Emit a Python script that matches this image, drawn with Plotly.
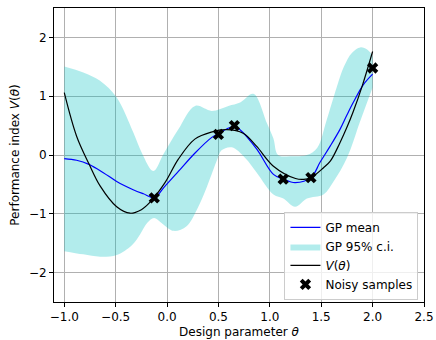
import plotly.graph_objects as go

# ---- data ----
theta_true = [-1.0, -0.88, -0.76, -0.65, -0.49, -0.36, -0.25, -0.17, -0.02, 0.11, 0.27, 0.43,
              0.58, 0.74, 0.87, 1.035, 1.25, 1.33, 1.40, 1.52, 1.59, 1.68, 1.75, 1.81, 1.90, 2.0]
V_true = [1.06, 0.32, -0.15, -0.53, -0.88, -0.99, -0.93, -0.81, -0.47, -0.07, 0.27, 0.39,
          0.43, 0.37, 0.15, -0.19, -0.40, -0.415, -0.385, -0.22, -0.10, 0.20, 0.47, 0.73, 1.18, 1.76]

theta_mean = [-1.0, -0.88, -0.76, -0.62, -0.49, -0.33, -0.23, -0.124, -0.03, 0.11, 0.27, 0.435,
              0.50, 0.60, 0.66, 0.71, 0.873, 1.035, 1.13, 1.246, 1.40, 1.49, 1.587, 1.684,
              1.75, 1.814, 1.912, 2.0]
gp_mean = [-0.06, -0.09, -0.16, -0.30, -0.45, -0.59, -0.66, -0.726, -0.55, -0.28, 0.03, 0.30,
           0.365, 0.46, 0.48, 0.43, 0.10, -0.33, -0.41, -0.47, -0.385, -0.12, 0.15, 0.44,
           0.68, 0.90, 1.20, 1.375]

theta_upper = [-1.0, -0.815, -0.652, -0.49, -0.328, -0.246, -0.133, -0.036, 0.11, 0.273, 0.435,
               0.597, 0.711, 0.84, 0.97, 1.035, 1.08, 1.2, 1.36, 1.46, 1.55, 1.65, 1.72, 1.80,
               1.88, 1.95, 2.0]
ci_upper = [1.506, 1.404, 1.261, 0.978, 0.382, 0.04, -0.273, 0.012, 0.438, 0.835, 0.75,
            0.835, 0.893, 1.04, 0.55, 0.28, 0.0, -0.02, 0.0, 0.12, 0.58, 1.15, 1.50, 1.74,
            1.83, 1.79, 1.69]

theta_lower = [-1.0, -0.815, -0.652, -0.49, -0.34, -0.263, -0.19, -0.127, -0.036, 0.063, 0.19,
               0.29, 0.39, 0.49, 0.53, 0.63, 0.76, 0.873, 1.035, 1.132, 1.246, 1.361, 1.522,
               1.62, 1.75, 1.88, 2.0]
ci_lower = [-1.635, -1.69, -1.73, -1.70, -1.53, -1.35, -1.15, -1.07, -1.18, -1.29, -1.21,
            -0.93, -0.53, -0.07, 0.08, 0.13, -0.05, -0.30, -0.67, -0.74, -0.88, -0.74, -0.67,
            -0.45, -0.05, 0.58, 1.15]

theta_samples = [-0.124, 0.50, 0.655, 1.13, 1.40, 2.0]
V_samples = [-0.73, 0.35, 0.50, -0.41, -0.385, 1.48]

x_tickvals = [-1.0, -0.5, 0.0, 0.5, 1.0, 1.5, 2.0, 2.5]
x_ticktext = ["\u22121.0", "\u22120.5", "0.0", "0.5", "1.0", "1.5", "2.0", "2.5"]
y_tickvals = [-2, -1, 0, 1, 2]
y_ticktext = ["\u22122", "\u22121", "0", "1", "2"]

FONT = "DejaVu Sans"

fig = go.Figure()

fig.add_trace(go.Scatter(x=theta_lower, y=ci_lower, mode="lines",
                         line=dict(width=0, shape="spline", color="rgba(0,191,191,0)"),
                         showlegend=False, hoverinfo="skip"))
fig.add_trace(go.Scatter(x=theta_upper, y=ci_upper, mode="lines", fill="tonexty",
                         fillcolor="rgba(0,191,191,0.3)",
                         line=dict(width=0, shape="spline", color="rgba(0,191,191,0)"),
                         name="GP 95% c.i.", legendrank=2))
fig.add_trace(go.Scatter(x=theta_mean, y=gp_mean, mode="lines",
                         line=dict(color="#0000ff", width=1.2, shape="spline"),
                         name="GP mean", legendrank=1))
fig.add_trace(go.Scatter(x=theta_true, y=V_true, mode="lines",
                         line=dict(color="black", width=1.2, shape="spline"),
                         name="<i>V</i>(<i>θ</i>)", legendrank=3))
fig.add_trace(go.Scatter(x=theta_samples, y=V_samples, mode="markers",
                         marker=dict(symbol="x", size=10, color="black", line=dict(width=0)),
                         name="Noisy samples", legendrank=4))

axis_common = dict(showline=True, mirror=True, linecolor="black", linewidth=1,
                   ticks="outside", ticklen=4, tickwidth=1, tickcolor="black",
                   showgrid=True, gridcolor="#b0b0b0", gridwidth=0.8, zeroline=False,
                   tickfont=dict(family=FONT, size=12, color="black"))

fig.update_xaxes(range=[-1.1, 2.5], tickvals=x_tickvals, ticktext=x_ticktext,
                 title=dict(text="Design parameter <i>θ</i>", font=dict(family=FONT, size=12, color="black"),
                            standoff=4),
                 **axis_common)
fig.update_yaxes(range=[-2.5, 2.5], tickvals=y_tickvals, ticktext=y_ticktext,
                 title=dict(text="Performance index <i>V</i>(<i>θ</i>)",
                            font=dict(family=FONT, size=12, color="black"), standoff=6),
                 **axis_common)

fig.update_layout(
    width=436, height=340,
    margin=dict(l=54, r=12, t=8, b=38, autoexpand=False),
    paper_bgcolor="white", plot_bgcolor="white",
    font=dict(family=FONT, size=12, color="black"),
    legend=dict(x=0.985, y=0.007, xanchor="right", yanchor="bottom",
                traceorder="normal",
                bgcolor="rgba(255,255,255,0.8)", bordercolor="#cccccc", borderwidth=1,
                font=dict(family=FONT, size=12, color="black"),
                tracegroupgap=0, itemwidth=30),
    showlegend=True,
)

fig.write_html("out.html", config={"displayModeBar": False},
               post_script="document.body.style.margin='0';document.body.style.overflow='hidden';")
